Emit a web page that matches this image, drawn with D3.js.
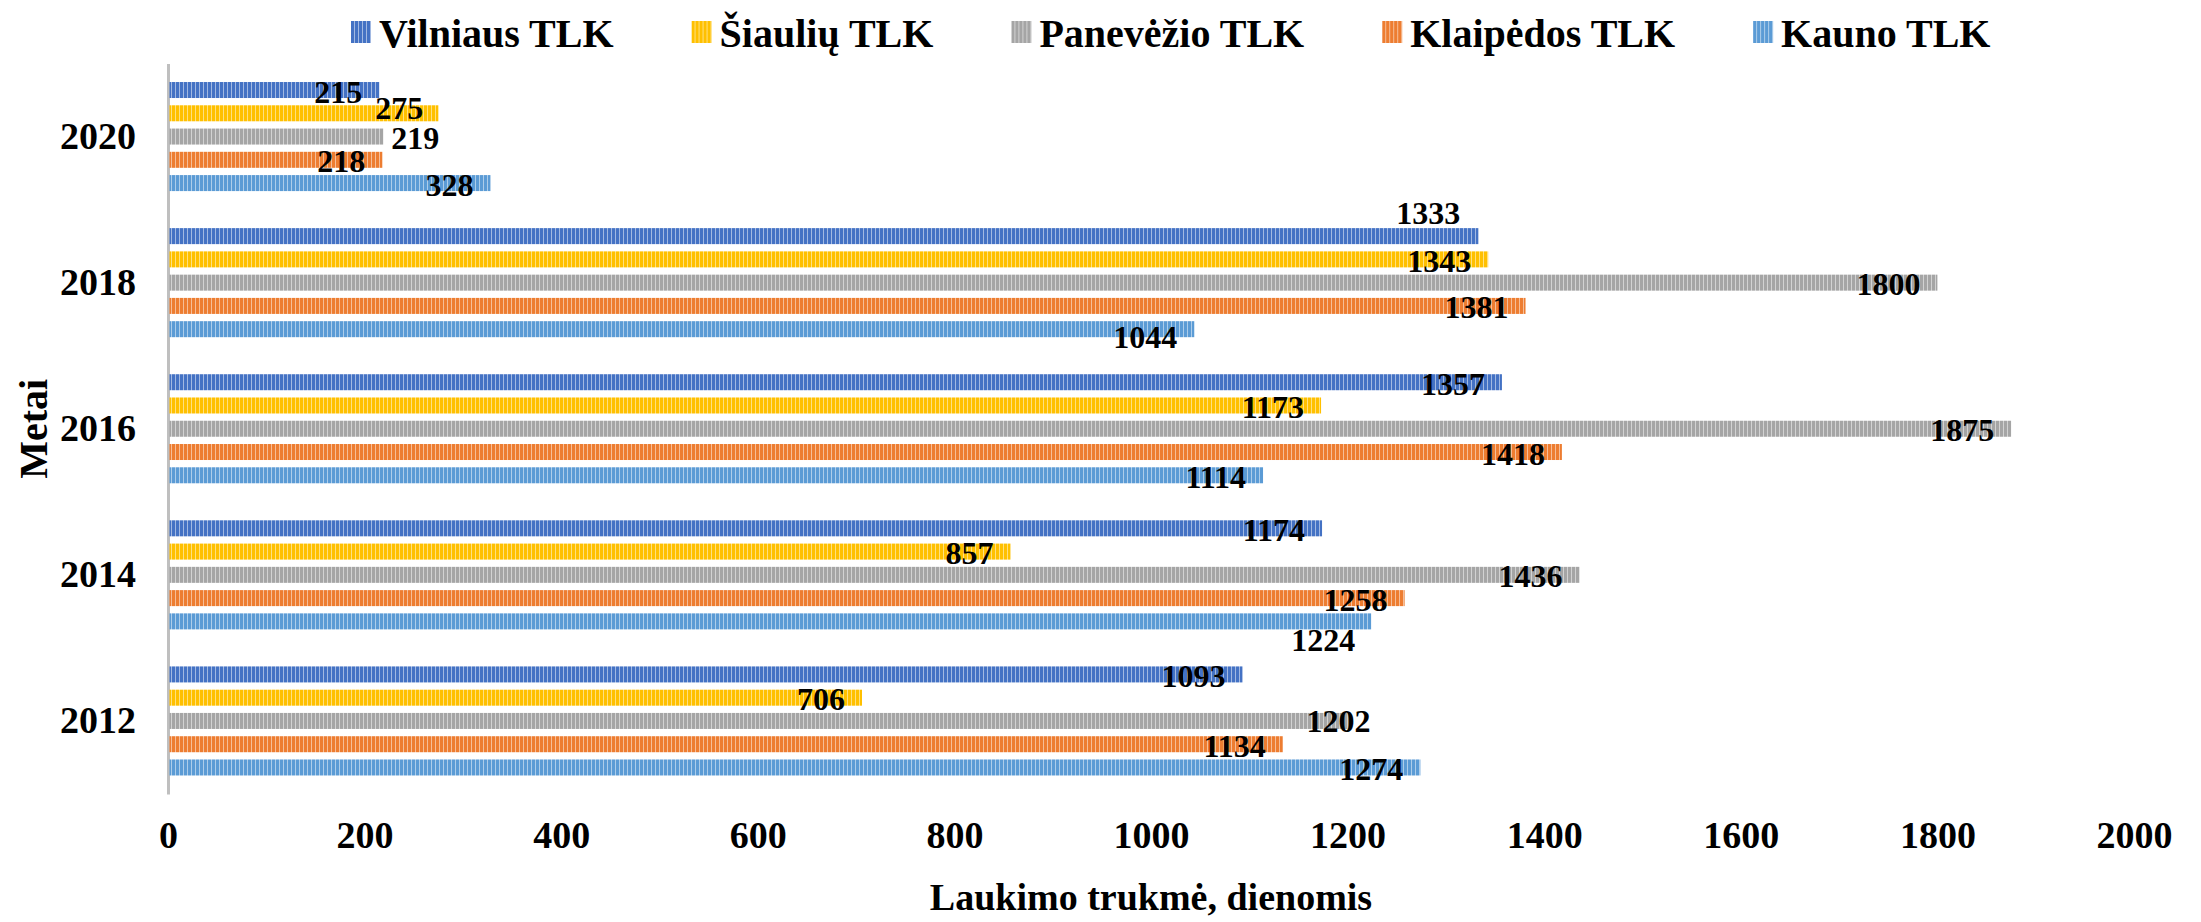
<!DOCTYPE html>
<html lang="lt">
<head>
<meta charset="UTF-8">
<title>Laukimo trukmė</title>
<style>
    html, body { margin: 0; padding: 0; background: #fff; }
    #chart { width: 2201px; height: 922px; }
    text { font-family: "Liberation Serif", "Times New Roman", serif; font-weight: bold; fill: #000; }
</style>
</head>
<body>
<div id="chart"></div>
<script src="https://d3js.org/d3.v7.min.js"></script>
<script>
    // ---- data ----
    const years = ['2020', '2018', '2016', '2014', '2012'];
    const series = ['Vilniaus TLK', 'Šiaulių TLK', 'Panevėžio TLK', 'Klaipėdos TLK', 'Kauno TLK'];
    const vilnius   = [215, 1333, 1357, 1174, 1093];
    const siauliai  = [275, 1343, 1173, 857, 706];
    const panevezys = [219, 1800, 1875, 1436, 1202];
    const klaipeda  = [218, 1381, 1418, 1258, 1134];
    const kaunas    = [328, 1044, 1114, 1224, 1274];
    const xTicks = [0, 200, 400, 600, 800, 1000, 1200, 1400, 1600, 1800, 2000];

    const values = [vilnius, siauliai, panevezys, klaipeda, kaunas];
    const colors = ['#4472c4', '#ffc000', '#a5a5a5', '#ed7d31', '#5b9bd5'];

    // label offsets (px) where the original labels were moved by hand
    const labelNudge = {
        'Šiaulių TLK|2020': [-15, -5],
        'Panevėžio TLK|2020': [56, 1],
        'Vilniaus TLK|2018': [-18, -23],
        'Kauno TLK|2018': [-17, 8],
        'Kauno TLK|2014': [-16, 19],
        'Panevėžio TLK|2012': [21, 0]
    };

    const width = 2201, height = 922;
    const svg = d3.select('#chart').append('svg')
        .attr('width', width)
        .attr('height', height)
        .attr('viewBox', `0 0 ${width} ${height}`);

    // striped fills
    const defs = svg.append('defs');
    series.forEach((s, i) => {
        const p = defs.append('pattern')
            .attr('id', 'pat' + i)
            .attr('patternUnits', 'userSpaceOnUse')
            .attr('width', 4).attr('height', 4);
        p.append('rect').attr('width', 4).attr('height', 4)
            .attr('fill', d3.interpolateRgb(colors[i], '#fff')(0.5));
        p.append('rect').attr('width', 3).attr('height', 4).attr('fill', colors[i]);
    });

    // ---- scales ----
    const x = d3.scaleLinear().domain([0, 2000]).range([168, 2134]);
    const y = d3.scaleBand().domain(years).range([63.5, 794]);
    const yInner = d3.scaleBand().domain(series).range([0, y.bandwidth()])
        .paddingInner(0.312).paddingOuter(0.796);

    // ---- axes ----
    svg.append('g')
        .attr('transform', `translate(0,794)`)
        .call(d3.axisBottom(x).tickValues(xTicks).tickFormat(d3.format('d')).tickSize(0).tickPadding(27))
        .call(g => g.select('.domain').remove())
        .selectAll('text')
        .style('font-size', '38px')
        .style('font-family', '"Liberation Serif", serif')
        .style('font-weight', 'bold');

    svg.append('g')
        .attr('transform', `translate(168,0)`)
        .call(d3.axisLeft(y).tickSize(0).tickSizeOuter(0).tickPadding(32))
        .call(g => g.select('.domain').attr('stroke', '#bfbfbf').attr('stroke-width', 3))
        .selectAll('text')
        .style('font-size', '38px')
        .style('font-family', '"Liberation Serif", serif')
        .style('font-weight', 'bold');

    // ---- bars ----
    const rows = [];
    years.forEach((yr, j) => series.forEach((s, i) => rows.push({ year: yr, s, i, v: values[i][j] })));

    svg.append('g').selectAll('rect')
        .data(rows)
        .join('rect')
        .attr('x', x(0) + 1.5)
        .attr('y', d => y(d.year) + yInner(d.s))
        .attr('width', d => x(d.v) - x(0) - 1.5)
        .attr('height', yInner.bandwidth())
        .attr('fill', d => `url(#pat${d.i})`);

    // ---- data labels ----
    svg.append('g').selectAll('text')
        .data(rows)
        .join('text')
        .attr('x', d => x(d.v) + (labelNudge[d.s + '|' + d.year] || [-17, 1.5])[0])
        .attr('y', d => y(d.year) + yInner(d.s) + yInner.bandwidth() / 2 + (labelNudge[d.s + '|' + d.year] || [-17, 1.5])[1])
        .attr('text-anchor', 'end')
        .attr('dominant-baseline', 'central')
        .style('font-size', '32px')
        .text(d => d.v);

    // ---- titles ----
    svg.append('text')
        .attr('transform', `translate(33,${(63.5 + 794) / 2}) rotate(-90)`)
        .attr('text-anchor', 'middle')
        .attr('dominant-baseline', 'central')
        .style('font-size', '40px')
        .text('Metai');

    svg.append('text')
        .attr('x', (x(0) + x(2000)) / 2)
        .attr('y', 897)
        .attr('text-anchor', 'middle')
        .attr('dominant-baseline', 'central')
        .style('font-size', '38px')
        .text('Laukimo trukmė, dienomis');

    // ---- legend ----
    const legend = svg.append('g');
    let lx = 351;
    series.forEach((s, i) => {
        const item = legend.append('g').attr('transform', `translate(${lx},0)`);
        item.append('rect')
            .attr('x', 0).attr('y', 21)
            .attr('width', 20).attr('height', 22)
            .attr('fill', `url(#pat${i})`);
        const t = item.append('text')
            .attr('x', 28).attr('y', 47)
            .style('font-size', '40px')
            .text(s);
        lx += 28 + t.node().getComputedTextLength() + 78;
    });
</script>
</body>
</html>
